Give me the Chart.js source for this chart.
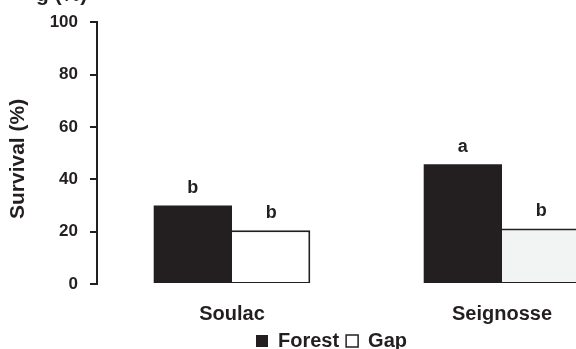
<!DOCTYPE html>
<html>
<head>
<meta charset="utf-8">
<script src="https://cdn.jsdelivr.net/npm/chart.js@4"></script>
<style>
  html, body { margin: 0; padding: 0; background: #ffffff; overflow: hidden; width: 576px; height: 349px; }
  #wrap { position: absolute; left: 0; top: 0; }
</style>
</head>
<body>
<div id="wrap"><canvas id="chart" width="663" height="361"></canvas></div>
<script>
// Survival of seedlings per site, under forest canopy and in gaps
const categories = ['Soulac', 'Seignosse'];
const forestValues = [30, 45.7];
const gapValues = [20.5, 21.2];
const forestLetters = ['b', 'a'];
const gapLetters = ['b', 'b'];
const yTicks = [0, 20, 40, 60, 80, 100];
const axisTitle = 'Survival (%)  ';
const headText = 'g (%)';

const INK = '#231f20';
const FONT = "'Liberation Sans', Arial, Helvetica, sans-serif";

// significance letters above each bar
const letterPlugin = {
  id: 'letters',
  afterDatasetsDraw(chart) {
    const ctx = chart.ctx;
    const sets = [forestLetters, gapLetters];
    ctx.save();
    ctx.fillStyle = INK;
    ctx.font = 'bold 18px ' + FONT;
    ctx.textAlign = 'center';
    ctx.textBaseline = 'alphabetic';
    chart.data.datasets.forEach((ds, i) => {
      const meta = chart.getDatasetMeta(i);
      meta.data.forEach((bar, j) => {
        ctx.fillText(sets[i][j], bar.x, bar.y - 12);
      });
    });
    ctx.restore();
  }
};

// heading text running along the top edge
const headPlugin = {
  id: 'head',
  afterDraw(chart) {
    const ctx = chart.ctx;
    ctx.save();
    ctx.fillStyle = INK;
    ctx.font = 'bold 21px ' + FONT;
    ctx.textAlign = 'left';
    ctx.textBaseline = 'alphabetic';
    ctx.fillText(headText, 36, 1);
    ctx.restore();
  }
};

new Chart(document.getElementById('chart'), {
  type: 'bar',
  data: {
    labels: categories,
    datasets: [
      {
        label: 'Forest',
        data: forestValues,
        backgroundColor: INK,
        borderWidth: 0,
        categoryPercentage: 0.58,
        barPercentage: 1.0
      },
      {
        label: 'Gap',
        data: gapValues,
        backgroundColor: ['#ffffff', '#f2f4f4'],
        borderColor: INK,
        borderWidth: { top: 2, right: 2, bottom: 1, left: 0 },
        borderSkipped: false,
        categoryPercentage: 0.58,
        barPercentage: 1.0
      }
    ]
  },
  options: {
    responsive: false,
    animation: false,
    devicePixelRatio: 1,
    layout: { padding: { top: 17, right: 26, left: 26, bottom: 0 } },
    plugins: {
      tooltip: { enabled: false },
      title: { display: false },
      legend: {
        display: true,
        position: 'bottom',
        labels: {
          boxWidth: 12,
          boxHeight: 12,
          padding: 7,
          color: INK,
          font: { family: FONT, size: 20, weight: 'bold' },
          generateLabels() {
            return [
              { text: 'Forest', fillStyle: INK, strokeStyle: INK, lineWidth: 0, datasetIndex: 0, fontColor: INK },
              { text: 'Gap', fillStyle: '#ffffff', strokeStyle: INK, lineWidth: 1.5, datasetIndex: 1, fontColor: INK }
            ];
          }
        }
      }
    },
    scales: {
      x: {
        grid: { display: false, drawTicks: false },
        border: { display: false },
        ticks: {
          color: INK,
          padding: 18,
          font: { family: FONT, size: 20, weight: 'bold' }
        },
        afterFit(scale) { scale.height = 40; }
      },
      y: {
        min: 0,
        max: 100,
        afterBuildTicks(scale) { scale.ticks = yTicks.map(v => ({ value: v })); },
        grid: {
          display: true,
          drawOnChartArea: false,
          drawTicks: true,
          tickLength: 7,
          color: INK,
          lineWidth: 2
        },
        border: { display: true, color: INK, width: 2 },
        ticks: {
          color: INK,
          padding: 12,
          font: { family: FONT, size: 17, weight: 'bold' }
        },
        title: {
          display: true,
          text: axisTitle,
          color: INK,
          padding: { top: -20, bottom: 4 },
          font: { family: FONT, size: 21, weight: 'bold' }
        },
        afterFit(scale) { scale.width = 71; }
      }
    }
  },
  plugins: [letterPlugin, headPlugin]
});
</script>
</body>
</html>
